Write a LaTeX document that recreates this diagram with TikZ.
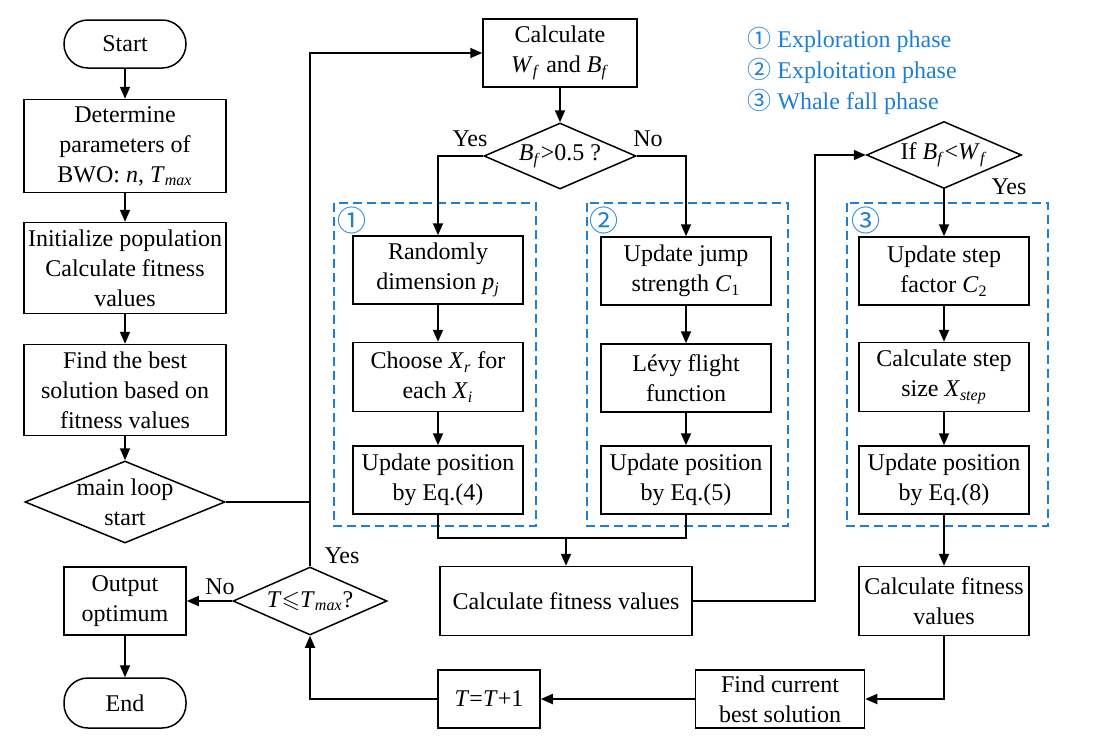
\documentclass[tikz,border=0pt]{standalone}
\usepackage{fontspec}
\setmainfont{Liberation Serif}
\newfontfamily\circfont{Noto Sans CJK SC}
\usepackage{amssymb}
\usetikzlibrary{shapes.geometric,arrows.meta}
\definecolor{phaseblue}{RGB}{30,128,210}
\newcommand{\vsub}[2]{\textit{#1}\textsubscript{\textit{#2}}}

\begin{document}
\begin{tikzpicture}[x=0.5pt,y=-0.5pt,
  every node/.style={font=\fontsize{12}{15}\selectfont},
  proc/.style={draw,line width=0.75pt,align=center,inner sep=1pt},
  term/.style={proc,rounded corners=12pt},
  cond/.style={diamond,draw,line width=0.75pt,aspect=2.3,inner sep=-2pt,align=center},
  arr/.style={-{Triangle[length=6pt,width=5pt]},line width=0.9pt},
  line/.style={line width=0.9pt},
  phase/.style={draw=phaseblue,line width=0.8pt,dash pattern=on 4.5pt off 2.5pt},
  tag/.style={text=phaseblue,inner sep=0pt,font=\circfont\fontsize{14.5}{15}\selectfont}]
\useasboundingbox (0,0) rectangle (1101,745);
% main column
\node [term,minimum width=61pt,minimum height=24pt] (start) at (125,44) {Start};
\node [proc,minimum width=101pt,minimum height=46.5pt] (det) at (125,146) {Determine\\parameters of\\BWO: \textit{n}, \vsub{T}{max}};
\node [proc,minimum width=101pt,minimum height=45.5pt] (init) at (125,268) {Initialize population\\Calculate fitness\\values};
\node [proc,minimum width=101pt,minimum height=45.5pt] (best) at (125,390) {Find the best\\solution based on\\fitness values};
\node [cond,minimum width=100pt,minimum height=41pt] (loop) at (125,502) {main loop\\start};
\node [proc,minimum width=61pt,minimum height=34pt] (out) at (125,601) {Output\\optimum};
\node [term,minimum width=61pt,minimum height=25pt] (end) at (125,703) {End};
\node [cond,minimum width=77pt,minimum height=34pt] (tmax) at (310,601) {\textit{T}$\leqslant$\vsub{T}{max}?};
% selection
\node [proc,minimum width=77pt,minimum height=34pt] (wb) at (560,53) {Calculate\\\vsub{W}{f} and \vsub{B}{f}};
\node [cond,minimum width=76pt,minimum height=33pt] (bf) at (560,156) {\vsub{B}{f}>0.5 ?};
\node [cond,minimum width=77.5pt,minimum height=33.5pt] (bw) at (944,155) {If \vsub{B}{f}<\vsub{W}{f}};
% phases
\draw [phase] (334,203) rectangle (536,526);
\draw [phase] (587,203) rectangle (788,526);
\draw [phase] (847,203) rectangle (1048,526);
\node [tag] (tg1) at (352,220) {①};
\node [tag] (tg2) at (604,220) {②};
\node [tag] (tg3) at (866,220) {③};
\node [proc,minimum width=85pt,minimum height=34pt] (p1a) at (438,270) {Randomly\\dimension \vsub{p}{j}};
\node [proc,minimum width=85pt,minimum height=34.5pt] (p1b) at (438,377) {Choose \vsub{X}{r} for\\each \vsub{X}{i}};
\node [proc,minimum width=85pt,minimum height=34pt] (p1c) at (438,480) {Update position\\by Eq.(4)};
\node [proc,minimum width=85pt,minimum height=34pt] (p2a) at (686,271) {Update jump\\strength \textit{C}\textsubscript{1}};
\node [proc,minimum width=85pt,minimum height=34pt] (p2b) at (686,378) {Lévy flight\\function};
\node [proc,minimum width=85pt,minimum height=34pt] (p2c) at (686,480) {Update position\\by Eq.(5)};
\node [proc,minimum width=85pt,minimum height=34pt] (p3a) at (944,271) {Update step\\factor \textit{C}\textsubscript{2}};
\node [proc,minimum width=85pt,minimum height=34.5pt] (p3b) at (944,377) {Calculate step\\size \vsub{X}{step}};
\node [proc,minimum width=85pt,minimum height=34pt] (p3c) at (944,480) {Update position\\by Eq.(8)};
% bottom row
\node [proc,minimum width=126pt,minimum height=34.5pt] (fit1) at (566,601) {Calculate fitness values};
\node [proc,minimum width=85pt,minimum height=34.5pt] (fit2) at (944,601) {Calculate fitness\\values};
\node [proc,minimum width=84.5pt,minimum height=29pt] (cur) at (780,699) {Find current\\best solution};
\node [proc,minimum width=51pt,minimum height=29pt] (tt) at (489,699) {\textit{T}=\textit{T}+1};
% legend
\node [anchor=west,align=left,text=phaseblue,inner sep=0pt,font=\fontsize{12}{15.5}\selectfont] (leg) at (747,71)
  {{\circfont ①}~Exploration phase\\{\circfont ②}~Exploitation phase\\{\circfont ③}~Whale fall phase};
% labels
\node (ybf) at (470,139) {Yes};
\node (nbf) at (648,139) {No};
\node (ybw) at (1009,187) {Yes};
\node (ytm) at (342,556) {Yes};
\node (ntm) at (220,587) {No};
% connectors
\coordinate (mrg) at (566,538);
\coordinate (up) at (815,601);
\draw [arr] (start) -- (det);
\draw [arr] (det) -- (init);
\draw [arr] (init) -- (best);
\draw [arr] (best) -- (loop);
\draw [line] (loop.east) -- (loop.east -| tmax.north);
\draw [arr] (tmax.north) |- (wb.west);
\draw [arr] (wb) -- (bf);
\draw [arr] (bf.west) -| (p1a.north);
\draw [arr] (bf.east) -| (p2a.north);
\draw [arr] (p1a) -- (p1b);
\draw [arr] (p1b) -- (p1c);
\draw [arr] (p2a) -- (p2b);
\draw [arr] (p2b) -- (p2c);
\draw [line] (p1c.south) |- (mrg) -| (p2c.south);
\draw [arr] (mrg) -- (fit1.north);
\draw [arr] (fit1.east) -- (up) |- (bw.west);
\draw [arr] (bw) -- (p3a);
\draw [arr] (p3a) -- (p3b);
\draw [arr] (p3b) -- (p3c);
\draw [arr] (p3c) -- (fit2);
\draw [arr] (fit2.south) |- (cur.east);
\draw [arr] (cur) -- (tt);
\draw [arr] (tt.west) -| (tmax.south);
\draw [arr] (tmax) -- (out);
\draw [arr] (out) -- (end);
\end{tikzpicture}
\end{document}
